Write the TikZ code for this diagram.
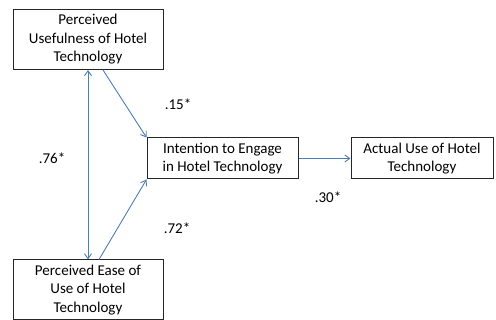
\documentclass[tikz,border=0pt]{standalone}
\usepackage{fontspec}
\setmainfont{Carlito}
\usepackage{tikz}
\usetikzlibrary{arrows.meta,positioning,calc}
\definecolor{linea}{HTML}{4A7EBB}
\definecolor{borde}{HTML}{262626}
\tikzset{
  varbox/.style={draw=borde,line width=1pt,align=center,inner sep=0pt,
    font=\fontsize{15}{18.5}\selectfont},
  arrow/.style={-{Straight Barb[length=5pt,width=7pt]},line width=0.9pt,draw=linea},
  dblarrow/.style={{Straight Barb[length=5pt,width=7pt]}-{Straight Barb[length=5pt,width=7pt]},
    line width=0.9pt,draw=linea},
  coef/.style={inner sep=0pt,font=\fontsize{15}{17}\selectfont}
}
\begin{document}
\begin{tikzpicture}[x=1pt,y=-1pt]
\useasboundingbox (0,0) rectangle (496,320);

\node[varbox,minimum width=150pt,minimum height=60pt] (pu) at (88,39.5)
  {Perceived\\Usefulness of Hotel\\Technology};
\node[varbox,minimum width=150pt,minimum height=60pt] (peou) at (88,290)
  {Perceived Ease of\\Use of Hotel\\Technology};
\node[varbox,minimum width=151pt,minimum height=41pt] (intent) at (222.5,158.5)
  {Intention to Engage\\in Hotel Technology};
\node[varbox,minimum width=142pt,minimum height=41pt] (actual) at (422,158.5)
  {Actual Use of Hotel\\Technology};

\draw[dblarrow] (pu.south) -- (peou.north);
\draw[arrow] ([xshift=15pt]pu.south) -- (intent.north west);
\draw[arrow] ([xshift=11pt]peou.north) -- (intent.south west);
\draw[arrow] (intent.east) -- (actual.west);

\node[coef] (c15) at (178,104) {.15*};
\node[coef] (c76) at (52,158) {.76*};
\node[coef] (c72) at (177,228) {.72*};
\node[coef] (c30) at (328,197) {.30*};
\end{tikzpicture}
\end{document}
